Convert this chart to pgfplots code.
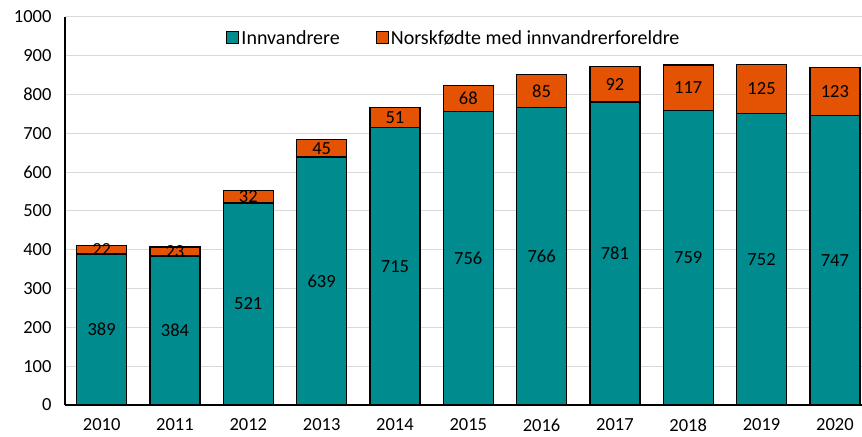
\documentclass[border=0pt]{standalone}
\usepackage{pgfplots}
\pgfplotsset{compat=1.18}
\usepackage{pgfplotstable}
\usepackage{fontspec}
\setmainfont{Carlito}
\definecolor{tealc}{RGB}{0,139,143}
\definecolor{orangec}{RGB}{228,83,4}
\definecolor{gridc}{RGB}{217,217,217}
\pgfplotstableread{
x inn nor
0 389 22
1 384 23
2 521 32
3 639 45
4 715 51
5 756 68
6 766 85
7 781 92
8 759 117
9 752 125
10 747 123
}\datatable
\newcommand{\fs}{\fontsize{18.5bp}{22bp}\selectfont}
\newcommand{\lfs}{\fontsize{20bp}{24bp}\selectfont}
\begin{document}
\begin{tikzpicture}
\path[use as bounding box] (-65bp,-32bp) rectangle (797bp,405bp);
\begin{axis}[
  scale only axis,
  width=797bp, height=388bp,
  xmin=-0.5, xmax=10.37,
  ymin=0, ymax=1000,
  ytick={0,100,...,1000},
  xtick={0,...,10},
  xticklabels={2010,2011,2012,2013,2014,2015,2016,2017,2018,2019,2020},
  axis x line*=bottom, axis y line*=left,
  axis line style={black, line width=1.3bp, -},
  major tick length=0pt,
  ymajorgrids, grid style={gridc, line width=1bp},
  tick label style={font=\fs},
  /pgf/number format/assume math mode=true,
  /pgf/number format/set thousands separator={},
  xticklabel style={yshift=-10bp},
  yticklabel style={xshift=-10bp},
  legend style={draw=none, fill=none, font=\lfs, at={(0.488,0.946)}, anchor=center,
    legend columns=2, /tikz/every even column/.append style={column sep=34bp}},
  legend image code/.code={\draw[#1, line width=1bp] (0bp,-6bp) rectangle (12bp,6bp);},
  clip=false,
]
\addlegendimage{fill=tealc, draw=black}
\addlegendentry{Innvandrere}
\addlegendimage{fill=orangec, draw=black}
\addlegendentry{Norskfødte med innvandrerforeldre}
\addplot[ybar, bar width=50bp, bar shift=0pt, fill=orangec, draw=black, line width=1.3bp, forget plot]
  table[x=x, y expr=\thisrow{inn}+\thisrow{nor}] {\datatable};
\addplot[ybar, bar width=50bp, bar shift=0pt, fill=tealc, draw=black, line width=1.3bp, forget plot]
  table[x=x, y=inn] {\datatable};
\addplot[draw=none, mark=none, forget plot, point meta=explicit,
  nodes near coords, nodes near coords align={center},
  every node near coord/.append style={font=\fs, text=black, anchor=center}]
  table[x=x, y expr=\thisrow{inn}/2, meta=inn] {\datatable};
\addplot[draw=none, mark=none, forget plot, point meta=explicit,
  nodes near coords, nodes near coords align={center},
  every node near coord/.append style={font=\fs, text=black, anchor=center}]
  table[x=x, y expr=\thisrow{inn}+\thisrow{nor}/2, meta=nor] {\datatable};
\end{axis}
\end{tikzpicture}
\end{document}
